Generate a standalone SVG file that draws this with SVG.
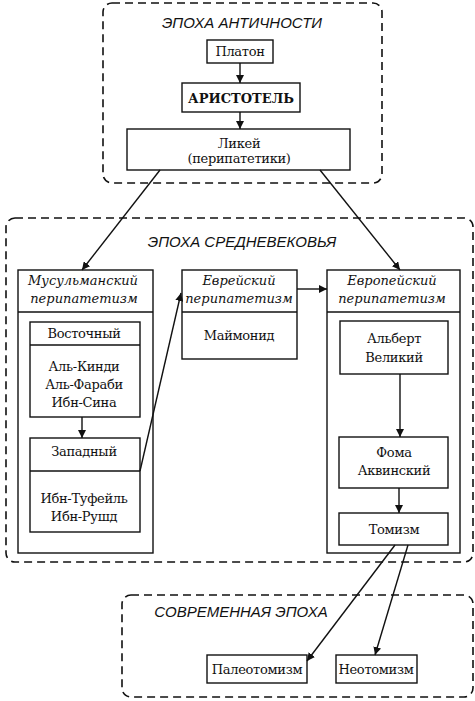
<svg xmlns="http://www.w3.org/2000/svg" width="475" height="701" viewBox="0 0 475 701">
<defs>
<marker id="arr" viewBox="0 0 10 10" refX="10" refY="5" markerWidth="8" markerHeight="8" markerUnits="userSpaceOnUse" orient="auto">
<path d="M0,0 L10,5 L0,10 z" fill="#111"/>
</marker>
<style>
.era{fill:none;stroke:#111;stroke-width:1.6;stroke-dasharray:8 5}
.box{fill:#fff;stroke:#111;stroke-width:1.4}
.ln{fill:none;stroke:#111;stroke-width:1.4}
.t{font-family:"DejaVu Serif","Liberation Serif",serif;font-size:13px;letter-spacing:-0.3px;fill:#111;text-anchor:middle}
.b{font-family:"DejaVu Serif","Liberation Serif",serif;font-size:13px;font-weight:bold;fill:#111;text-anchor:middle}
.h{font-family:"DejaVu Serif","Liberation Serif",serif;font-size:13px;font-style:italic;fill:#111;text-anchor:middle}
.title{font-family:"Liberation Sans","DejaVu Sans",sans-serif;font-size:15px;font-style:italic;fill:#111;text-anchor:middle}
.conn{fill:none;stroke:#111;stroke-width:1.4;marker-end:url(#arr)}
</style>
</defs>
<rect width="475" height="701" fill="#fff"/>

<g id="era-antiquity">
<rect class="era" x="103" y="3" width="279" height="180" rx="9"/>
<text class="title" x="242" y="28">ЭПОХА АНТИЧНОСТИ</text>
</g>
<g id="era-middle-ages">
<rect class="era" x="6" y="218" width="467" height="344" rx="9"/>
<text class="title" x="242" y="247">ЭПОХА СРЕДНЕВЕКОВЬЯ</text>
</g>
<g id="era-modern">
<rect class="era" x="122" y="595" width="351" height="102" rx="9"/>
<text class="title" x="241" y="617">СОВРЕМЕННАЯ ЭПОХА</text>
</g>

<g id="plato">
<rect class="box" x="207" y="40" width="66" height="23"/>
<text class="t" x="240" y="56">Платон</text>
</g>
<g id="aristotle">
<rect class="box" x="182" y="83" width="118" height="29"/>
<text class="b" x="241" y="103">АРИСТОТЕЛЬ</text>
</g>
<g id="lyceum">
<rect class="box" x="127" y="129" width="223" height="41"/>
<text class="t" x="239" y="148">Ликей</text>
<text class="t" x="239" y="163">(перипатетики)</text>
</g>

<g id="muslim">
<rect class="box" x="18" y="270" width="135" height="283"/>
<line class="ln" x1="18" y1="312" x2="153" y2="312"/>
<text class="h" x="83" y="285">Мусульманский</text>
<text class="h" x="84" y="303">перипатетизм</text>
</g>
<g id="eastern">
<rect class="box" x="30" y="322" width="110" height="95"/>
<line class="ln" x1="30" y1="345" x2="140" y2="345"/>
<text class="t" x="84" y="338">Восточный</text>
<text class="t" x="84" y="371">Аль-Кинди</text>
<text class="t" x="84" y="389">Аль-Фараби</text>
<text class="t" x="84" y="407">Ибн-Сина</text>
</g>
<g id="western">
<rect class="box" x="30" y="438" width="110" height="94"/>
<line class="ln" x1="30" y1="471" x2="140" y2="471"/>
<text class="t" x="84" y="456">Западный</text>
<text class="t" x="84" y="503">Ибн-Туфейль</text>
<text class="t" x="84" y="521">Ибн-Рушд</text>
</g>

<g id="jewish">
<rect class="box" x="182" y="270" width="115" height="89"/>
<line class="ln" x1="182" y1="312" x2="297" y2="312"/>
<text class="h" x="239" y="285">Еврейский</text>
<text class="h" x="239" y="303">перипатетизм</text>
<text class="t" x="239" y="340">Маймонид</text>
</g>

<g id="european">
<rect class="box" x="327" y="270" width="133" height="283"/>
<line class="ln" x1="327" y1="312" x2="460" y2="312"/>
<text class="h" x="392" y="285">Европейский</text>
<text class="h" x="392" y="303">перипатетизм</text>
</g>
<g id="albert">
<rect class="box" x="340" y="321" width="108" height="53"/>
<text class="t" x="394" y="343">Альберт</text>
<text class="t" x="394" y="362">Великий</text>
</g>
<g id="thomas">
<rect class="box" x="339" y="437" width="109" height="51"/>
<text class="t" x="394" y="457">Фома</text>
<text class="t" x="394" y="475">Аквинский</text>
</g>
<g id="thomism">
<rect class="box" x="339" y="513" width="109" height="32"/>
<text class="t" x="394" y="534">Томизм</text>
</g>

<g id="paleothomism">
<rect class="box" x="207" y="655" width="100" height="28"/>
<text class="t" x="257" y="674">Палеотомизм</text>
</g>
<g id="neothomism">
<rect class="box" x="336" y="655" width="81" height="28"/>
<text class="t" x="376" y="674">Неотомизм</text>
</g>

<g id="connectors">
<line class="conn" x1="240" y1="63" x2="240" y2="83"/>
<line class="conn" x1="240" y1="112" x2="240" y2="129"/>
<line class="conn" x1="160" y1="170" x2="82" y2="270"/>
<line class="conn" x1="320" y1="170" x2="400" y2="270"/>
<line class="conn" x1="82" y1="417" x2="82" y2="438"/>
<line class="conn" x1="140" y1="471" x2="181" y2="293"/>
<line class="conn" x1="297" y1="289" x2="327" y2="289"/>
<line class="conn" x1="400" y1="374" x2="400" y2="437"/>
<line class="conn" x1="399" y1="488" x2="399" y2="513"/>
<line class="conn" x1="395" y1="545" x2="307" y2="661"/>
<line class="conn" x1="408" y1="545" x2="375" y2="655"/>
</g>
</svg>
